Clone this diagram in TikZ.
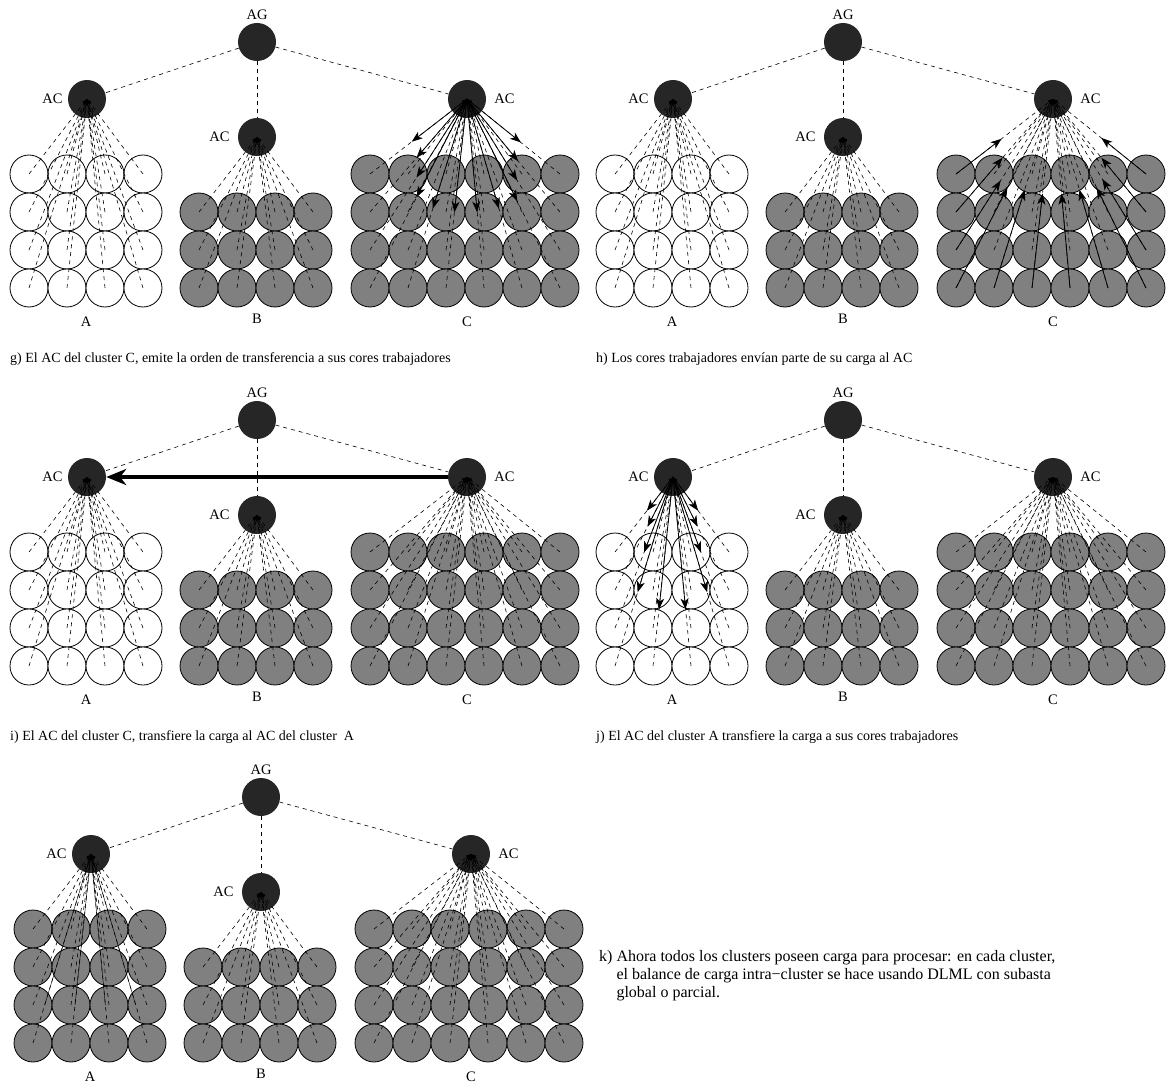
\documentclass[tikz,border=0pt]{standalone}
\usepackage{fontspec}
\setmainfont{Liberation Serif}
\usetikzlibrary{positioning,arrows.meta,calc}

\begin{document}
\begin{tikzpicture}[
      x=1pt, y=-1pt,
      every node/.style={font=\fontsize{14.5}{16}\selectfont},
      core/.style={circle, draw, line width=0.8pt, minimum size=38pt, inner sep=0pt},
      idle/.style={core, fill=white},
      busy/.style={core, fill=black!50},
      agent/.style={circle, fill=black!85, minimum size=38pt, inner sep=0pt},
      tag/.style={inner sep=1pt},
      link/.style={dash pattern=on 4pt off 4pt, line width=0.6pt},
      feed/.style={link, -{Latex[length=5pt,width=4pt]}},
      push/.style={line width=0.8pt, -{Stealth[length=11pt,width=8pt,inset=3pt]}},
      bulk/.style={line width=4.5pt, -{Stealth[length=20pt,width=16pt,inset=6pt]}},
      caption/.style={anchor=base west, inner sep=0pt, font=\fontsize{14}{18}\selectfont},
    ]
    \useasboundingbox (0,0) rectangle (1166,1086);

    % --- the same tree in every panel ---
    \foreach \p/\dx/\dy/\fa in {g/0/0/idle, h/586/0/idle, i/0/378/idle, j/586/378/idle, k/4/755/busy} {
      \begin{scope}[shift={(\dx,\dy)}]
        % agents
        \node[agent] (\p-ag) at (257,42) {};
        \node[tag, above=2pt of \p-ag] (\p-agl) {AG};
        \node[agent] (\p-acA) at (87,99) {};
        \node[agent] (\p-acB) at (257,137) {};
        \node[agent] (\p-acC) at (467,99) {};
        \node[tag, left=4pt of \p-acA] (\p-acAl) {AC};
        \node[tag, left=7pt of \p-acB] (\p-acBl) {AC};
        \node[tag, right=7pt of \p-acC] (\p-acCl) {AC};

        % cluster A
        \foreach \c in {0,...,3}
          \foreach \r in {0,...,3}
            \node[\fa] (\p-A-\c-\r) at (29+38*\c, 174+38*\r) {};
        % cluster B
        \foreach \c in {0,...,3}
          \foreach \r in {0,...,2}
            \node[busy] (\p-B-\c-\r) at (199+38*\c, 212+38*\r) {};
        % cluster C
        \foreach \c in {0,...,5}
          \foreach \r in {0,...,3}
            \node[busy] (\p-C-\c-\r) at (370+38*\c, 174+38*\r) {};

        \node (\p-nA) at (86,322) {A};
        \node (\p-nB) at (257,319) {B};
        \node (\p-nC) at (467,322) {C};

        % workers -> AC
        \foreach \c in {0,...,3}
          \foreach \r in {0,...,3}
            \draw[feed] (\p-A-\c-\r.center) -- (\p-acA.center);
        \foreach \c in {0,...,3}
          \foreach \r in {0,...,2}
            \draw[feed] (\p-B-\c-\r.center) -- (\p-acB.center);
        \foreach \c in {0,...,5}
          \foreach \r in {0,...,3}
            \draw[feed] (\p-C-\c-\r.center) -- (\p-acC.center);

        % AG -> AC
        \draw[link] (\p-ag) -- (\p-acA);
        \draw[link] (\p-ag) -- (\p-acB);
        \draw[link] (\p-ag) -- (\p-acC);
      \end{scope}
    }

    % --- g: order from AC of C ---
    \foreach \t/\f in {C-0-0/0.57, C-0-1/0.52, C-0-2/0.52, C-0-3/0.52,
                       C-1-3/0.58, C-2-3/0.6, C-3-3/0.6, C-4-3/0.58,
                       C-5-0/0.58, C-5-1/0.55, C-5-2/0.54, C-5-3/0.54} {
      \coordinate (g-to-\t) at ($(g-acC.center)!\f!(g-\t.center)$);
      \draw[push] (g-acC.center) -- (g-to-\t);
    }

    % --- h: load back to AC of C ---
    \foreach \t/\f in {C-0-0/0.47, C-0-1/0.48, C-0-2/0.46, C-0-3/0.53,
                       C-1-3/0.52, C-2-3/0.5, C-3-3/0.5, C-4-3/0.52,
                       C-5-0/0.48, C-5-1/0.48, C-5-2/0.47, C-5-3/0.53} {
      \coordinate (h-to-\t) at ($(h-\t.center)!\f!(h-acC.center)$);
      \draw[push] (h-\t.center) -- (h-to-\t);
    }

    % --- i: AC of C to AC of A ---
    \draw[bulk] (i-acC.west) -- (i-acA.east);

    % --- j: AC of A to its workers ---
    \foreach \t/\f in {A-0-0/0.45, A-0-1/0.44, A-0-2/0.5, A-0-3/0.61,
                       A-1-3/0.7, A-2-3/0.7,
                       A-3-0/0.45, A-3-1/0.44, A-3-2/0.5, A-3-3/0.61} {
      \coordinate (j-to-\t) at ($(j-acA.center)!\f!(j-\t.center)$);
      \draw[push] (j-acA.center) -- (j-to-\t);
    }

    % --- k: traces left in cluster A ---
    \foreach \t in {A-0-3, A-1-3, A-2-3, A-3-3} {
      \coordinate (k-to-\t) at ($(k-acA.center)!0.8!(k-\t.center)$);
      \draw[line width=0.4pt] (k-acA.center) -- (k-to-\t);
    }

    % --- captions ---
    \node[caption] (cap-g) at (10,362) {g) El AC del cluster C, emite la orden de transferencia a sus cores trabajadores};
    \node[caption] (cap-h) at (596,362) {h) Los cores trabajadores envían parte de su carga al AC};
    \node[caption] (cap-i) at (10,740) {i) El AC del cluster C, transfiere la carga al AC del cluster~ A};
    \node[caption] (cap-j) at (596,740) {j) El AC del cluster A transfiere la carga a sus cores trabajadores};
    \node[caption, anchor=north west, align=left, font=\fontsize{16}{18}\selectfont] (cap-k) at (599,950) {k) Ahora todos los clusters poseen carga para procesar: en cada cluster,\\
      \phantom{k) }el balance de carga intra−cluster se hace usando DLML con subasta\\
      \phantom{k) }global o parcial.};
  \end{tikzpicture}
\end{document}
